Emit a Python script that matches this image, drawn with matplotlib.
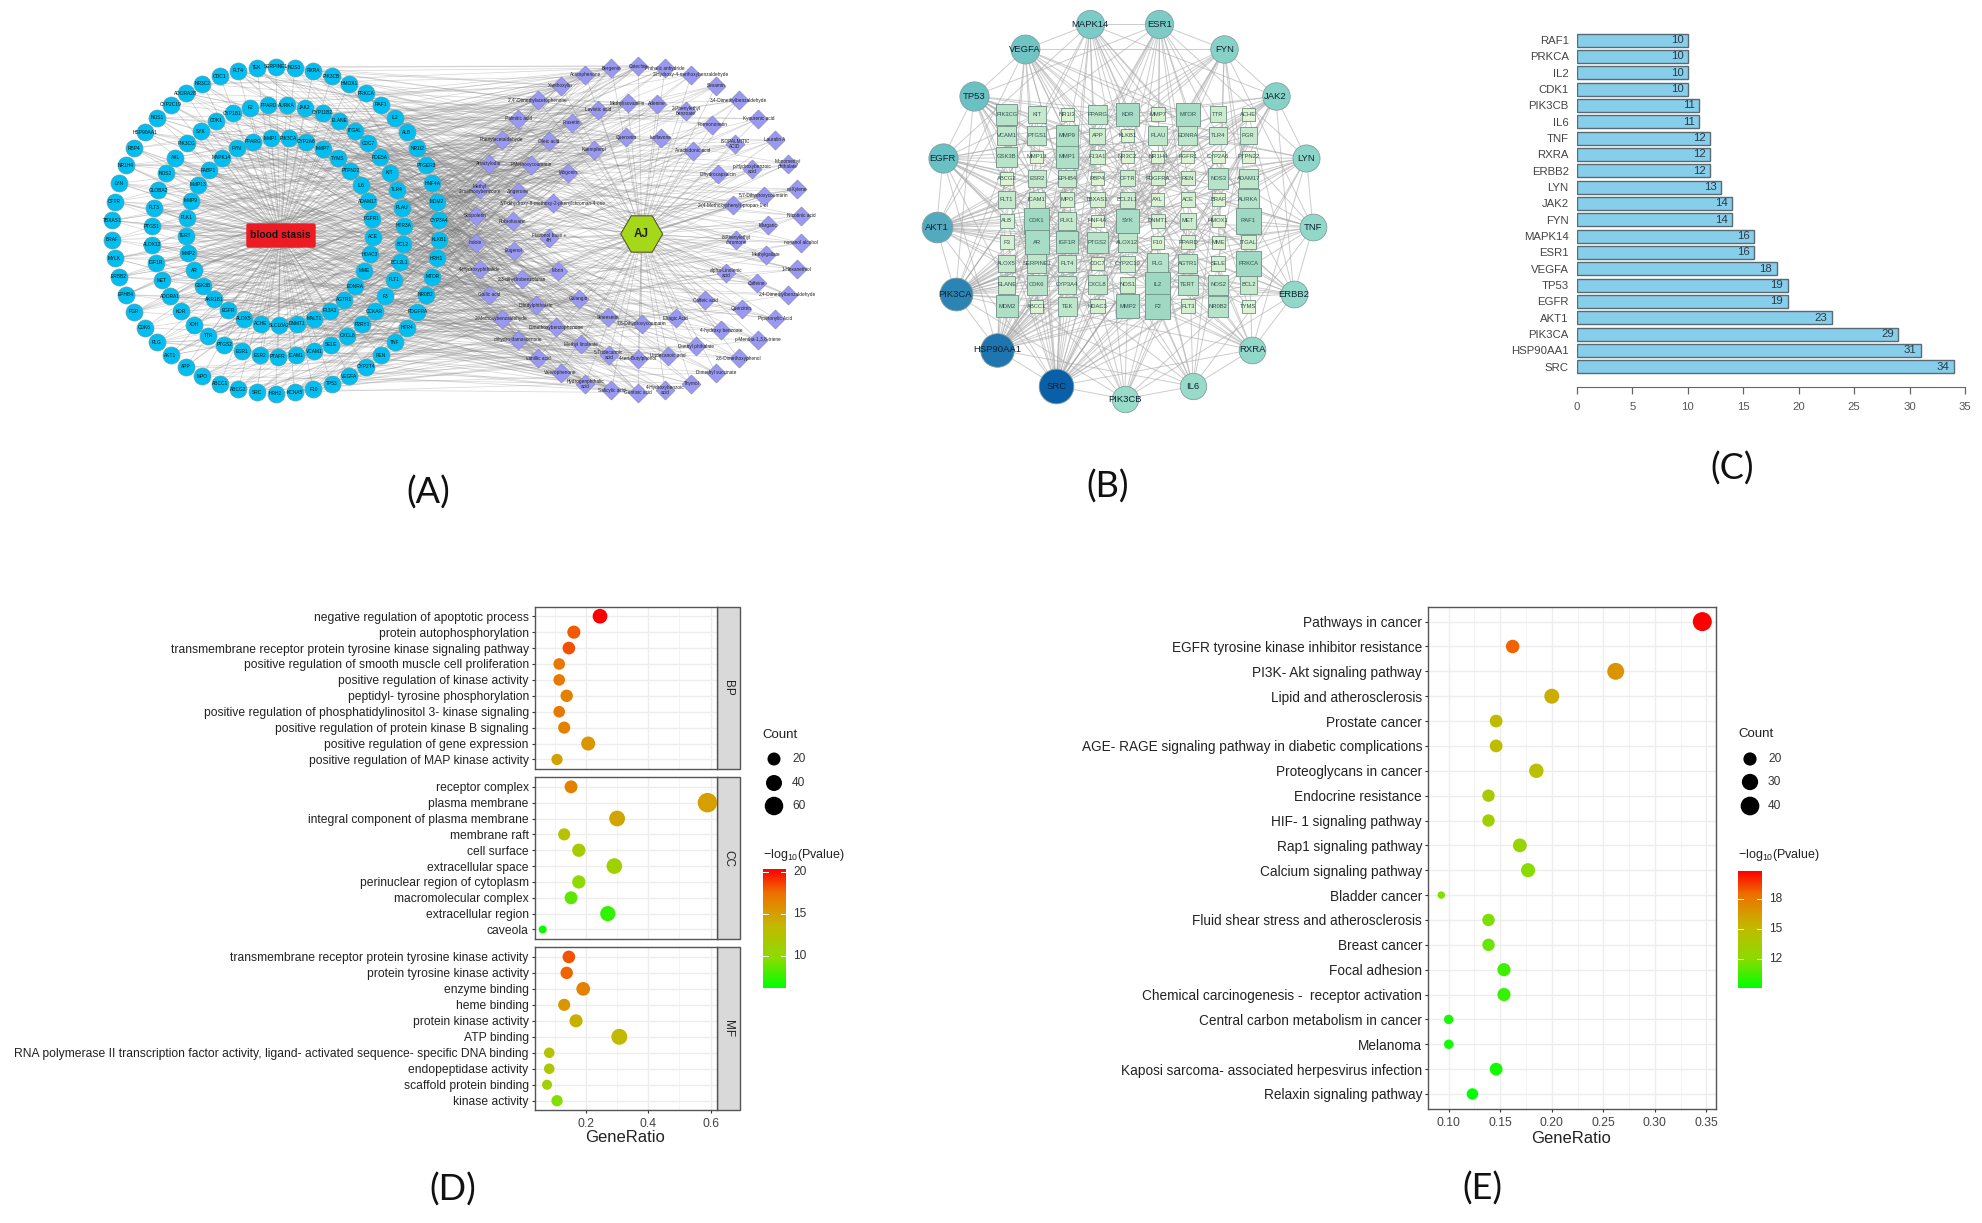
import numpy as np
import matplotlib
matplotlib.use('Agg')
import matplotlib.pyplot as plt
from matplotlib.collections import LineCollection
from matplotlib.colors import LinearSegmentedColormap
from matplotlib.patches import FancyBboxPatch, RegularPolygon, Rectangle

plt.rcParams['font.family'] = ['Liberation Sans', 'DejaVu Sans']
plt.rcParams['mathtext.default'] = 'regular'

# ---- panel A: labels of the target rings and compound rings
a_outer = ['SERPINE1', 'NOS3', 'RXRA', 'PIK3CB', 'HMOX1', 'PRKCA', 'RAF1', 'IL2', 'ALB', 'NR1I2', 'PTGER3', 'HNF4A',
           'MDM2', 'CYP3A4', 'KLKB1', 'HRH1', 'MTOR', 'NR0B2', 'PDGFRA', 'HTR4', 'TNF', 'REN', 'CYP2T4', 'VEGFA',
           'TP53', 'F10', 'KCNA5', 'HRH2', 'SRC', 'ABCG2', 'ABCC1', 'MPO', 'APP', 'AKT1', 'PLG', 'CDK6', 'PGR',
           'EPHB4', 'ERBB2', 'MYLK', 'BRAF', 'TBXAS1', 'CFTR', 'LYN', 'NR1H4', 'RBP4', 'HSP90AA1', 'NOS1', 'CYP2C19',
           'ADORA2B', 'NR3C2', 'ODC1', 'FLT4', 'TEK']
a_middle = ['AURKA', 'JAK2', 'CYP11B2', 'ELANE', 'ITGAL', 'CDC7', 'PDE5A', 'KIT', 'TLR4', 'PLAU', 'HTR3A', 'BCL2',
            'BCL2L1', 'FLT1', 'F3', 'CCKAR', 'P2RY1', 'CXCL8', 'SELE', 'VCAM1', 'ICAM1', 'PTAFR', 'ESR2', 'ESR1',
            'PTGS2', 'TTR', 'XDH', 'KDR', 'ADORA1', 'MET', 'IGF1R', 'ALOX12', 'PTGS1', 'FLT3', 'GLOBA2', 'NOS2', 'AXL',
            'PIK3CG', 'SYK', 'CDK1', 'CYP1B1', 'F2', 'PPARD']
a_inner = ['PIK3CA', 'CYP2A6', 'MMP7', 'TYMS', 'PTPN22', 'IL6', 'ADAM17', 'FGFR1', 'ACE', 'HDAC3', 'MME', 'EDNRA',
           'AGTR1', 'F13A1', 'MALT1', 'DNMT1', 'SLC10A2', 'ACHE', 'ALOX5', 'EGFR', 'AKR1B1', 'GSK3B', 'AR', 'MMP2',
           'TERT', 'PLK1', 'MMP9', 'MMP13', 'FABP1', 'MAPK14', 'FYN', 'PPARG', 'MMP1']
c_outer = ['Catechin', 'Phthalic anhydride', '2-Hydroxy-4-methoxybenzaldehyde', 'Sesamin', '3,4-Dimethylbenzaldehyde',
           'Kynurenic acid', 'Lauralin A', 'Monomethyl\nphthalate', 'm-Xylene', 'Nicotinic acid', 'nonanol alcohol',
           '1-Hexanethiol', '2,4-Dimethylbenzaldehyde', 'Piperonylic Acid', 'p-Mentha-1,3,8-triene',
           '2,6-Dimethoxyphenol', 'Dimethyl succinate', 'Thymol', '4-Hydroxybenzoic\nacid', 'Gentisic acid',
           'Salicylic acid', 'Hydrogenphthalic\nacid', 'Valerophenone', 'vanillic acid', 'dihydro damascenone',
           '2-Methoxybenzaldehyde', 'Gallic acid', '4-Hydroxyphthalide', 'Indole', 'Scopoletin',
           'Methyl\n2-methoxybenzoate', 'Atractylodin', 'Phenylacetaldehyde', 'Palmitic acid',
           "2',4'-Dimethylacetophenone", 'Xanthoxylin', 'Acetophenone', 'Bergenin']
c_middle = ['Adenine', '2-Phenylethyl\nbenzoate', 'Formononetin', 'ISOPALMITIC\nACID', 'p-Hydroxybenzoic\nacid',
            '5,7-Dihydroxycoumarin', 'Margaric', 'Methylgallate', 'Caffeine', 'Quercitrin', '4-hydroxy benzoate',
            'Diethyl phthalate', 'Undecanoic acid', '4-tert-Butylphenol', '5-Tridecanoic\nacid', 'Methyl linoleate',
            'Dimethoxybenzophenone', 'Dibutylphthalate', '2,3-dihydrobenzofuran', 'Eugenol', 'Rubrofusarin',
            'Zingerone', '7-Methoxycoumarin', 'Oleic acid', 'Fraxetin', 'Levistic acid', 'Methylisovanillin']
c_inner = ['Isoflavone', 'Arachidonic acid', 'Dihydrocapsaicin', '2-(4-Methoxyphenyl)-propan-1-ol',
           '8-Phenylethyl\nchromone', 'alpha-Linolenic\nacid', 'Caffeic acid', 'Ellagic Acid', '7,8-Dihydroxycoumarin',
           'Sinensetin', 'Galangin', 'Morin', 'Flavonol base +\n4H', '3,7-dihydroxy-8-methoxy-2-phenylchroman-4-one',
           'Wogonin', 'Kaempferol', 'Quercetin']

# ---- panel B: hubs (clockwise from the bottom) and the 10 x 9 block of other targets
hub_names = ['PIK3CB', 'SRC', 'HSP90AA1', 'PIK3CA', 'AKT1', 'EGFR', 'TP53', 'VEGFA', 'MAPK14', 'ESR1', 'FYN', 'JAK2',
             'LYN', 'TNF', 'ERBB2', 'RXRA', 'IL6']
hub_degree = [11, 34, 31, 29, 23, 19, 19, 18, 16, 16, 14, 14, 13, 12, 12, 12, 11]
grid_names = [['PIK3CG', 'KIT', 'NR1I3', 'PPARG', 'KDR', 'MMP7', 'MTOR', 'TTR', 'ACHE'],
              ['VCAM1', 'PTGS1', 'MMP9', 'APP', 'KLKB1', 'PLAU', 'EDNRA', 'TLR4', 'PGR'],
              ['GSK3B', 'MMP13', 'MMP1', 'F13A1', 'NR3C2', 'NR1H4', 'FGFR1', 'CYP2A6', 'PTPN22'],
              ['ABCG2', 'ESR2', 'EPHB4', 'RBP4', 'CFTR', 'PDGFRA', 'REN', 'NOS3', 'ADAM17'],
              ['FLT1', 'ICAM1', 'MPO', 'TBXAS1', 'BCL2L1', 'AXL', 'ACE', 'BRAF', 'AURKA'],
              ['ALB', 'CDK1', 'PLK1', 'HNF4A', 'SYK', 'DNMT1', 'MET', 'HMOX1', 'RAF1'],
              ['F3', 'AR', 'IGF1R', 'PTGS2', 'ALOX12', 'F10', 'PPARD', 'MME', 'ITGAL'],
              ['ALOX5', 'SERPINE1', 'FLT4', 'CDC7', 'CYP2C19', 'PLG', 'AGTR1', 'SELE', 'PRKCA'],
              ['ELANE', 'CDK6', 'CYP3A4', 'CXCL8', 'NOS1', 'IL2', 'TERT', 'NOS2', 'BCL2'],
              ['MDM2', 'ABCC1', 'TEK', 'HDAC3', 'MMP2', 'F2', 'FLT3', 'NR0B2', 'TYMS']]
grid_degree = [[6, 4, 1, 5, 8, 2, 8, 3, 1],
               [5, 5, 7, 3, 1, 5, 5, 4, 4],
               [6, 1, 7, 2, 1, 1, 1, 1, 1],
               [1, 4, 4, 1, 3, 2, 2, 6, 5],
               [4, 3, 2, 2, 3, 1, 2, 1, 6],
               [2, 9, 4, 1, 8, 2, 3, 1, 9],
               [2, 8, 7, 6, 5, 1, 2, 1, 2],
               [4, 5, 4, 1, 3, 6, 5, 2, 9],
               [4, 6, 4, 5, 3, 9, 6, 6, 4],
               [7, 1, 5, 2, 8, 9, 2, 6, 1]]

# ---- panel C
bar_genes = ['SRC', 'HSP90AA1', 'PIK3CA', 'AKT1', 'EGFR', 'TP53', 'VEGFA', 'ESR1', 'MAPK14', 'FYN', 'JAK2', 'LYN',
             'ERBB2', 'RXRA', 'TNF', 'IL6', 'PIK3CB', 'CDK1', 'IL2', 'PRKCA', 'RAF1']
bar_counts = [34, 31, 29, 23, 19, 19, 18, 16, 16, 14, 14, 13, 12, 12, 12, 11, 11, 10, 10, 10, 10]

# ---- panel D
bp_terms = ['negative regulation of apoptotic process', 'protein autophosphorylation',
            'transmembrane receptor protein tyrosine kinase signaling pathway',
            'positive regulation of smooth muscle cell proliferation', 'positive regulation of kinase activity',
            'peptidyl- tyrosine phosphorylation', 'positive regulation of phosphatidylinositol 3- kinase signaling',
            'positive regulation of protein kinase B signaling', 'positive regulation of gene expression',
            'positive regulation of MAP kinase activity']
bp_ratio = [.245, .161, .145, .114, .114, .138, .114, .130, .207, .107]
bp_count = [28, 19, 17, 13, 13, 16, 13, 15, 24, 12]
bp_logp = [20.3, 18.0, 18.3, 17.0, 17.0, 16.6, 17.0, 16.5, 15.5, 14.8]
cc_terms = ['receptor complex', 'plasma membrane', 'integral component of plasma membrane', 'membrane raft',
            'cell surface', 'extracellular space', 'perinuclear region of cytoplasm', 'macromolecular complex',
            'extracellular region', 'caveola']
cc_ratio = [.152, .59, .30, .13, .177, .291, .177, .152, .27, .061]
cc_count = [18, 68, 35, 15, 20, 34, 20, 18, 31, 7]
cc_logp = [16.5, 15.0, 14.7, 12.6, 11.5, 11.0, 10.0, 8.5, 7.5, 6.5]
mf_terms = ['transmembrane receptor protein tyrosine kinase activity', 'protein tyrosine kinase activity',
            'enzyme binding', 'heme binding', 'protein kinase activity', 'ATP binding',
            'RNA polymerase II transcription factor activity, ligand- activated sequence- specific DNA binding',
            'endopeptidase activity', 'scaffold protein binding', 'kinase activity']
mf_ratio = [.145, .138, .191, .13, .168, .307, .082, .082, .075, .107]
mf_count = [17, 16, 22, 15, 19, 36, 10, 10, 9, 12]
mf_logp = [18.2, 17.8, 16.5, 15.5, 14.0, 13.5, 12.5, 12.0, 11.0, 9.5]

# ---- panel E
kegg_terms = ['Pathways in cancer', 'EGFR tyrosine kinase inhibitor resistance', 'PI3K- Akt signaling pathway',
              'Lipid and atherosclerosis', 'Prostate cancer', 'AGE- RAGE signaling pathway in diabetic complications',
              'Proteoglycans in cancer', 'Endocrine resistance', 'HIF- 1 signaling pathway', 'Rap1 signaling pathway',
              'Calcium signaling pathway', 'Bladder cancer', 'Fluid shear stress and atherosclerosis', 'Breast cancer',
              'Focal adhesion', 'Chemical carcinogenesis -  receptor activation', 'Central carbon metabolism in cancer',
              'Melanoma', 'Kaposi sarcoma- associated herpesvirus infection', 'Relaxin signaling pathway']
kegg_ratio = [.346, .162, .262, .2, .146, .146, .185, .1386, .1386, .169, .177, .0928, .1386, .1386, .1536, .1536,
              .1, .1, .146, .123]
kegg_count = [45, 21, 34, 26, 19, 19, 24, 18, 18, 22, 23, 12, 18, 18, 20, 20, 13, 13, 19, 16]
kegg_logp = [20.9, 18.8, 17.0, 15.8, 15.0, 15.0, 14.7, 13.8, 13.2, 12.6, 12.0, 11.8, 11.7, 11.3, 10.4, 10.2, 9.6,
             9.5, 9.5, 9.1]

W, H = 1982, 1223
PT = 0.72  # points per pixel at dpi 100
fig = plt.figure(figsize=(W / 100, H / 100), dpi=100)

gr_cmap = LinearSegmentedColormap.from_list('gr', [(0, '#00FF00'), (.25, '#8CDC00'), (.5, '#BFBC00'), (.62, '#D4A000'),
                                                   (.8, '#EE7000'), (1, '#FF0000')])


def px_axes(x0, y0, x1, y1, **kw):
    return fig.add_axes([x0 / W, 1 - y1 / H, (x1 - x0) / W, (y1 - y0) / H], **kw)


def ring(cx, cy, r, n, start):
    th = np.radians(start + 360.0 * np.arange(n) / n)
    return np.column_stack([cx + r * np.cos(th), cy + r * np.sin(th)])


def s_of(d):
    return (np.asarray(d) * PT) ** 2


# whole-figure axes in pixel coordinates for the two networks and the loose text
net = fig.add_axes([0, 0, 1, 1])
net.set_xlim(0, W)
net.set_ylim(H, 0)
net.axis('off')

# ---- panel A
t_rings = [ring(275.7, 230, 163.5, len(a_outer), -90), ring(277.7, 230.7, 126, len(a_middle), -85.9),
           ring(279.3, 231.7, 93.7, len(a_inner), -84.3)]
t_pts = np.vstack(t_rings)
t_names = a_outer + a_middle + a_inner
c_rings = [ring(638.3, 229.3, 163.3, len(c_outer), -90), ring(640.3, 230.7, 128, len(c_middle), -82.4),
           ring(642.7, 230, 94, len(c_inner), -78.8)]
c_pts = np.vstack(c_rings)
c_names = c_outer + c_middle + c_inner
stasis = np.array([280.5, 235.5])
aj = np.array([641.7, 234.0])

# links are too dense to read, so they follow a fixed index walk between compounds and targets
segs = [[stasis, p] for p in t_pts] + [[aj, p] for p in c_pts]
net.add_collection(LineCollection(segs, colors='#999999', linewidths=0.5, alpha=0.5, zorder=1))
segs = []
for i, p in enumerate(c_pts):
    # compounds on the far side of AJ carry fewer links
    for k in range(13 if p[0] < aj[0] else 5):
        segs.append([p, t_pts[(i * 37 + k * 53) % len(t_pts)]])
net.add_collection(LineCollection(segs, colors='#808080', linewidths=0.55, alpha=0.3, zorder=1))

net.scatter(t_pts[:, 0], t_pts[:, 1], s=s_of(17), c='#00BFF0', edgecolors='#5f9fb0', linewidths=0.5, zorder=3)
for p, name in zip(t_pts, t_names):
    net.text(p[0], p[1], name, fontsize=3.5, ha='center', va='center', color='#111111', zorder=4)
net.scatter(c_pts[:, 0], c_pts[:, 1], s=94, marker='D', c='#9A99F2', edgecolors='#8080b0', linewidths=0.4, zorder=3)
for p, name in zip(c_pts, c_names):
    net.text(p[0], p[1], name, fontsize=3.4, ha='center', va='center', color='#222222', zorder=4, linespacing=1.0)
net.add_patch(FancyBboxPatch((247, 224), 68, 23, boxstyle='round,pad=0,rounding_size=1.5', fc='#ED1C24', ec='#ED1C24',
                             zorder=5))
net.text(280.5, 235.5, 'blood stasis', fontsize=7.5, fontweight='bold', ha='center', va='center', color='#111111', zorder=6)
net.add_patch(RegularPolygon(aj, 6, radius=21, orientation=np.pi / 6, fc='#A6D81A', ec='#555533', lw=0.8, zorder=5))
net.text(aj[0], aj[1], 'AJ', fontsize=8.5, fontweight='bold', ha='center', va='center', color='#222222', zorder=6)

# ---- panel B
hub_pts = ring(1124.7, 210, 189, len(hub_names), 90)
hub_cmap = LinearSegmentedColormap.from_list('hub', ['#98DBC9', '#6CC3C4', '#3F97BA', '#0A60A8'])
rows, cols = len(grid_names), len(grid_names[0])
gx = 1006.7 + 30.2 * np.arange(cols)
gy = 114.3 + 21.33 * np.arange(rows)
grid_pts = np.array([[gx[c], gy[r]] for r in range(rows) for c in range(cols)])

segs = []
for i, (p, d) in enumerate(zip(hub_pts, hub_degree)):
    for k in range(d):
        segs.append([p, grid_pts[(i * 11 + k * 17) % len(grid_pts)]])
    for k in (1, 3):
        segs.append([p, hub_pts[(i + k) % len(hub_pts)]])
net.add_collection(LineCollection(segs, colors='#AAAAAA', linewidths=0.7, alpha=0.6, zorder=1))

sq_cmap = LinearSegmentedColormap.from_list('sq', ['#DDF3D2', '#9FD9C4'])
for r in range(rows):
    for c in range(cols):
        d = grid_degree[r][c]
        half = (17 + 2.3 * d) / 3
        net.add_patch(Rectangle((gx[c] - half, gy[r] - half), 2 * half, 2 * half, fc=sq_cmap((d - 1) / 8), ec='#6F8F85',
                                lw=0.6, zorder=3))
        net.text(gx[c], gy[r], grid_names[r][c], fontsize=4.2, ha='center', va='center', color='#2f4f4f', zorder=4)
for p, name, d in zip(hub_pts, hub_names, hub_degree):
    net.scatter(p[0], p[1], s=s_of(2 * (11.2 + 0.18 * d)), color=hub_cmap((d - 11) / 23), edgecolors='#7f9f9f',
                linewidths=0.6, zorder=3)
    net.text(p[0], p[1], name, fontsize=6.8, ha='center', va='center', color='#123', zorder=4)

# ---- panel C
ax = px_axes(1577, 30, 1965, 387)
ax.patch.set_alpha(0)
idx = np.arange(len(bar_genes))
ax.barh(idx, bar_counts, height=0.8, color='#87CEEB', edgecolor='#5a6a72', linewidth=1.0)
for i, v in zip(idx, bar_counts):
    ax.text(v - 0.4, i, str(v), ha='right', va='center', fontsize=8.2, color='#2b3a42')
ax.set_xlim(0, 35)
ax.set_ylim(-1.243, 20.62)
ax.set_yticks(idx, bar_genes)
ax.set_xticks(np.arange(0, 36, 5))
ax.tick_params(axis='y', length=0, pad=6, labelsize=8.2, labelcolor='#444444')
ax.tick_params(axis='x', length=5, width=0.9, color='#666666', pad=6, labelsize=8.2, labelcolor='#555555')
for s in ['left', 'right', 'top']:
    ax.spines[s].set_visible(False)
ax.spines['bottom'].set_color('#666666')


# ---- panels D and E helpers
def dot_panel(box, terms, ratio, count, logp, vmin, vmax, xlim, major, minor, cmin, cmax, dmin, dmax, fs, show_x):
    ax = px_axes(*box)
    n = len(terms)
    d = dmin + (dmax - dmin) * np.sqrt((np.array(count) - cmin) / (cmax - cmin))
    ax.scatter(ratio, np.arange(n), s=s_of(d), c=logp, cmap=gr_cmap, vmin=vmin, vmax=vmax, linewidths=0, zorder=3,
               clip_on=True)
    ax.set_xlim(*xlim)
    ax.set_ylim(n - 1 + 0.6, -0.6)
    ax.set_yticks(np.arange(n), terms)
    ax.set_xticks(major)
    ax.set_xticks(minor, minor=True)
    ax.grid(True, which='major', color='#EDEDED', lw=1.0, zorder=0)
    ax.grid(True, which='minor', axis='x', color='#F2F2F2', lw=0.6, zorder=0)
    ax.set_axisbelow(True)
    ax.tick_params(axis='y', length=2.5, width=0.8, color='#333333', pad=2, labelsize=fs, labelcolor='#222222')
    ax.tick_params(axis='x', which='minor', length=0)
    if show_x:
        ax.set_xticklabels(['%.1f' % v if len(major) == 3 else '%.2f' % v for v in major])
        ax.tick_params(axis='x', length=2.5, width=0.8, color='#333333', pad=3, labelsize=8.8, labelcolor='#444444')
    else:
        ax.tick_params(axis='x', length=0, labelbottom=False)
    for s in ax.spines.values():
        s.set_color('#555555')
        s.set_linewidth(1.0)
    return ax


def count_legend(x_title, x_dot, x_lab, y_title, ys, labels, ds):
    net.text(x_title, y_title, 'Count', fontsize=9.5, ha='left', va='center', color='#222222')
    net.scatter([x_dot] * len(ys), ys, s=s_of(ds), c='black', linewidths=0)
    for y, lab in zip(ys, labels):
        net.text(x_lab, y, str(lab), fontsize=8.6, ha='left', va='center', color='#333333')


def color_legend(x0, y0, x1, y1, vmin, vmax, ticks, x_lab, y_title):
    net.text(x0, y_title, r'$-$log$_{10}$(Pvalue)', fontsize=9, ha='left', va='center', color='#222222')
    cax = px_axes(x0, y0, x1, y1)
    cax.imshow(np.linspace(vmax, vmin, 256)[:, None], cmap=gr_cmap, vmin=vmin, vmax=vmax, aspect='auto',
               extent=[0, 1, vmin, vmax])
    cax.set_xticks([])
    cax.set_yticks([])
    for s in cax.spines.values():
        s.set_visible(False)
    for t in ticks:
        cax.plot([0, 0.2], [t, t], color='white', lw=0.7)
        cax.plot([0.8, 1], [t, t], color='white', lw=0.7)
        net.text(x_lab, y0 + (vmax - t) / (vmax - vmin) * (y1 - y0), str(t), fontsize=8.6, ha='left', va='center',
                 color='#333333')
    cax.set_xlim(0, 1)
    cax.set_ylim(vmin, vmax)


# ---- panel D
d_major = [0.2, 0.4, 0.6]
d_minor = [0.1, 0.3, 0.5]
d_facets = [(606.7, 769, bp_terms, bp_ratio, bp_count, bp_logp, 'BP'),
            (777.3, 939, cc_terms, cc_ratio, cc_count, cc_logp, 'CC'),
            (947.3, 1110.3, mf_terms, mf_ratio, mf_count, mf_logp, 'MF')]
for top, bottom, terms, ratio, count, logp, strip in d_facets:
    dot_panel((535, top, 716.7, bottom), terms, ratio, count, logp, 6.2, 20.3, (0.0363, 0.6196), d_major, d_minor,
              7, 68, 8, 19.5, 8.75, strip == 'MF')
    net.add_patch(Rectangle((716.7, top), 22.8, bottom - top, fc='#D9D9D9', ec='#555555', lw=1.0))
    net.text(728, (top + bottom) / 2, strip, fontsize=8.5, rotation=-90, ha='center', va='center', color='#222222')
net.text(625, 1138, 'GeneRatio', fontsize=12, ha='center', va='center', color='#222222')
count_legend(762, 774, 792, 735, [759, 783, 806], [20, 40, 60], [13, 16, 18.5])
color_legend(763, 869, 786, 987.7, 6.2, 20.3, [20, 15, 10], 793, 855)

# ---- panel E
dot_panel((1428.3, 606.7, 1715.8, 1108.9), kegg_terms, kegg_ratio, kegg_count, kegg_logp, 9.07, 20.9, (0.0802, 0.3591),
          [.10, .15, .20, .25, .30, .35], [.125, .175, .225, .275, .325], 12, 45, 7.5, 19, 9.8, True)
net.text(1571.5, 1138.5, 'GeneRatio', fontsize=12, ha='center', va='center', color='#222222')
count_legend(1738, 1750, 1768, 734, [759, 782, 806], [20, 30, 40], [13.2, 16.3, 18.7])
color_legend(1738, 870.5, 1761.6, 987.5, 9.07, 20.9, [18, 15, 12], 1769, 855)

# ---- panel letters
letters = ['(A)', '(B)', '(C)', '(D)', '(E)']
letter_x = [428, 1108, 1732, 453, 1482]
letter_y = [493, 487, 469, 1190, 1189]
for lab, x, y in zip(letters, letter_x, letter_y):
    net.text(x, y, lab, fontfamily='Lato', fontsize=26, ha='center', va='center', color='#111111')

fig.savefig('out.png', dpi=100, facecolor='white')
